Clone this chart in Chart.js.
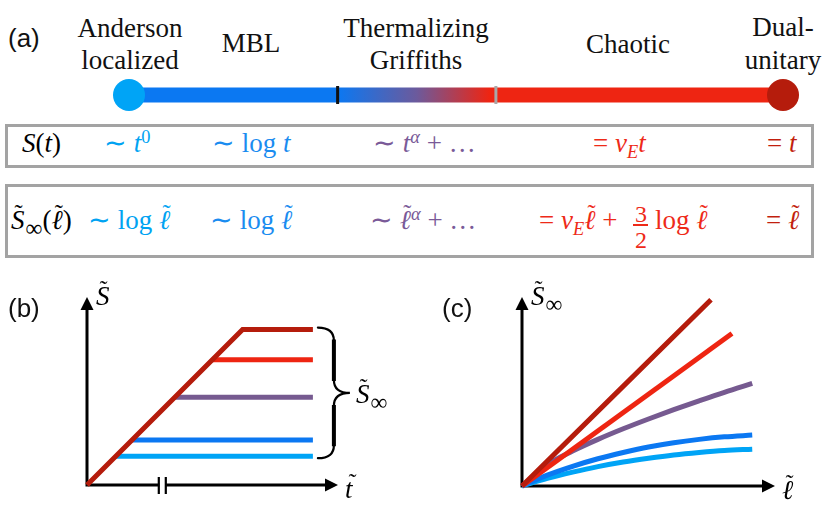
<!DOCTYPE html>
<html>
<head>
<meta charset="utf-8">
<script src="https://cdn.jsdelivr.net/npm/chart.js@4.4.1/dist/chart.umd.min.js"></script>
<style>
  body { margin: 0; background: #fff; }
  #page { position: relative; width: 830px; height: 508px; overflow: hidden; background: #fff; font-family: 'Liberation Serif', 'Times New Roman', serif; }
  canvas { position: absolute; }
  #page .t { position: absolute; white-space: nowrap; line-height: 1; font-family: 'Liberation Serif', 'Times New Roman', serif; }
  #page .lab { font-size: 27px; width: 200px; text-align: center; color: #111; }
  #page .m { font-size: 27px; }
  #page .sans { font-family: 'Liberation Sans', Arial, sans-serif; font-size: 26px; color: #111; }
  .box { position: absolute; border: 3px solid #a3a3a3; box-sizing: border-box; }
  sup { font-size: 0.68em; vertical-align: 0.5em; line-height: 0; }
  sub { font-size: 0.68em; vertical-align: -0.3em; line-height: 0; }
  sub.inf { font-size: 0.88em; vertical-align: -0.28em; margin-left: 1px; }
  .acc { position: relative; display: inline-block; font-style: italic; }
  .acc .tl { position: absolute; left: 0.14em; top: -0.2em; font-style: normal; font-size: 0.9em; }
  .c0 { color: #00a3f2; }
  .c1 { color: #1a8cf0; }
  .c2 { color: #7a5a98; }
  .c3 { color: #ee2a18; }
  .c4 { color: #c21f0e; }
  .bar { position: absolute; height: 1.5px; background: #ee2a18; }
</style>
</head>
<body>
<div id="page">
  <!-- (a) phase labels -->
  <div class="t sans" style="left:8px;top:25px">(a)</div>
  <div class="t lab" style="left:30px;top:15px">Anderson</div>
  <div class="t lab" style="left:30px;top:47px">localized</div>
  <div class="t lab" style="left:151px;top:30px">MBL</div>
  <div class="t lab" style="left:316px;top:15px">Thermalizing</div>
  <div class="t lab" style="left:316px;top:47px">Griffiths</div>
  <div class="t lab" style="left:528px;top:31px">Chaotic</div>
  <div class="t lab" style="left:683px;top:14px">Dual-</div>
  <div class="t lab" style="left:683px;top:47px">unitary</div>

  <canvas id="phase" width="830" height="50" style="left:0;top:70px;width:830px;height:50px"></canvas>

  <!-- entanglement growth row -->
  <div class="box" style="left:5px;top:124px;width:809px;height:44px"></div>
  <div class="t m" style="left:22px;top:130px"><i>S</i>(<i>t</i>)</div>
  <div class="t m c0" style="left:104px;top:130px">∼ <i>t</i><sup>0</sup></div>
  <div class="t m c1" style="left:212px;top:130px">∼ log <i>t</i></div>
  <div class="t m c2" style="left:373px;top:130px">∼ <i>t</i><sup><i>α</i></sup> + …</div>
  <div class="t m c3" style="left:593px;top:130px">= <i>v</i><sub><i>E</i></sub><i>t</i></div>
  <div class="t m c4" style="left:767px;top:130px">= <i>t</i></div>

  <!-- saturation row -->
  <div class="box" style="left:5px;top:184px;width:809px;height:74px"></div>
  <div class="t m" style="left:11px;top:207px"><span class="acc">S<span class="tl">˜</span></span><sub class="inf">∞</sub>(<span class="acc">ℓ<span class="tl">˜</span></span>)</div>
  <div class="t m c0" style="left:88px;top:207px">∼ log <span class="acc">ℓ<span class="tl">˜</span></span></div>
  <div class="t m c1" style="left:210px;top:207px">∼ log <span class="acc">ℓ<span class="tl">˜</span></span></div>
  <div class="t m c2" style="left:370px;top:207px">∼ <span class="acc">ℓ<span class="tl">˜</span></span><sup><i>α</i></sup> + …</div>
  <div class="t m c3" style="left:539px;top:207px">= <i>v</i><sub><i>E</i></sub><span class="acc">ℓ<span class="tl">˜</span></span> +</div>
  <div class="t c3" style="left:635px;top:202px;font-size:24px">3</div>
  <div class="bar" style="left:633px;top:224px;width:15px"></div>
  <div class="t c3" style="left:635px;top:228px;font-size:24px">2</div>
  <div class="t m c3" style="left:655px;top:207px">log <span class="acc">ℓ<span class="tl">˜</span></span></div>
  <div class="t m c4" style="left:766px;top:207px">= <span class="acc">ℓ<span class="tl">˜</span></span></div>

  <!-- (b) and (c) -->
  <canvas id="growth" width="415" height="238" style="left:0;top:270px;width:415px;height:238px"></canvas>
  <canvas id="sat" width="415" height="238" style="left:415px;top:270px;width:415px;height:238px"></canvas>

  <div class="t sans" style="left:8px;top:295px">(b)</div>
  <div class="t m" style="left:96px;top:283px"><span class="acc">S<span class="tl">˜</span></span></div>
  <div class="t m" style="left:345px;top:476px"><span class="acc">t<span class="tl">˜</span></span></div>
  <div class="t m" style="left:356px;top:381px"><span class="acc">S<span class="tl">˜</span></span><sub class="inf">∞</sub></div>

  <div class="t sans" style="left:442px;top:295px">(c)</div>
  <div class="t m" style="left:531px;top:283px"><span class="acc">S<span class="tl">˜</span></span><sub class="inf">∞</sub></div>
  <div class="t m" style="left:782px;top:477px"><span class="acc">ℓ<span class="tl">˜</span></span></div>
</div>

<script>
// phases, from Anderson localized to dual-unitary
const phaseNames = ['Anderson localized', 'MBL', 'Thermalizing Griffiths', 'Chaotic', 'Dual-unitary'];
const phaseColors = ['#00a4f6', '#0b78f2', '#765a90', '#ee2512', '#b51c0c'];

// phase line: positions of the two transitions along the bar (0 = Anderson, 1 = dual-unitary)
const transitions = [0.319, 0.561];

// (b) entanglement growth: plateau heights S~_inf (reached along S~ = t~)
const plateau = [1.15, 1.8, 3.5, 5.0, 6.2];
const tEnd = 9.0;
const tBreak = 3.0;

// (c) saturation value vs subsystem size
const ellGrid = [0, 1, 2, 3, 4, 5, 6, 7, 8, 9.1];
const satAnderson = [0, 0.30, 0.55, 0.77, 0.95, 1.10, 1.23, 1.33, 1.41, 1.46];
const satMBL = [0, 0.43, 0.78, 1.08, 1.33, 1.55, 1.72, 1.85, 1.95, 2.02];
const satGriffiths = [0, 0.85, 1.39, 1.85, 2.27, 2.66, 3.03, 3.38, 3.72, 4.07];
const ellChaotic = [0, 8.3];
const satChaotic = [0, 6.05];
const ellDual = [0, 7.47];
const satDual = [0, 7.39];

const baseOptions = (padding) => ({
  responsive: false,
  animation: false,
  devicePixelRatio: 1,
  layout: { padding: padding },
  plugins: { legend: { display: false }, tooltip: { enabled: false } },
  elements: { point: { radius: 0 } },
  scales: {
    x: { type: 'linear', display: false, min: 0, max: 10 },
    y: { type: 'linear', display: false, min: 0, max: 7.5 }
  }
});

function arrow(ctx, x, y, dx, dy) {
  const len = 13, half = 6.5;
  const px = -dy, py = dx;
  ctx.beginPath();
  ctx.moveTo(x, y);
  ctx.lineTo(x - dx * len + px * half, y - dy * len + py * half);
  ctx.lineTo(x - dx * len - px * half, y - dy * len - py * half);
  ctx.closePath();
  ctx.fill();
}

// arrowed axes through the origin
const axesPlugin = {
  id: 'axes',
  beforeDatasetsDraw(chart, args, opts) {
    const { ctx } = chart;
    const { left, right, top, bottom } = chart.chartArea;
    ctx.save();
    ctx.strokeStyle = '#000';
    ctx.fillStyle = '#000';
    ctx.lineWidth = 3;
    ctx.beginPath();
    ctx.moveTo(left, bottom + 1.5);
    ctx.lineTo(left, top + 10);
    ctx.moveTo(left - 1.5, bottom);
    ctx.lineTo(right - 10, bottom);
    ctx.stroke();
    arrow(ctx, left, top, 0, -1);
    arrow(ctx, right, bottom, 1, 0);
    if (opts.breakAt != null) {
      const xb = chart.scales.x.getPixelForValue(opts.breakAt);
      ctx.fillStyle = '#fff';
      ctx.fillRect(xb - 3, bottom - 3, 6, 6);
      ctx.lineWidth = 2.2;
      ctx.beginPath();
      ctx.moveTo(xb - 3.5, bottom - 8); ctx.lineTo(xb - 3.5, bottom + 9);
      ctx.moveTo(xb + 3.5, bottom - 8); ctx.lineTo(xb + 3.5, bottom + 9);
      ctx.stroke();
    }
    ctx.restore();
  }
};

// curly brace spanning the plateaus in (b), thicker stems like a typeset brace
const bracePlugin = {
  id: 'brace',
  afterDatasetsDraw(chart, args, opts) {
    if (!opts.show) return;
    const { ctx } = chart;
    const ys = chart.scales.y;
    const y1 = ys.getPixelForValue(Math.max(...plateau)) - 2;
    const y2 = ys.getPixelForValue(Math.min(...plateau)) + 2;
    const ym = (y1 + y2) / 2;
    const x0 = chart.scales.x.getPixelForValue(tEnd) + 5;
    const w = 32, xm = x0 + w / 2, r = 13;
    ctx.save();
    ctx.strokeStyle = '#000';
    ctx.lineCap = 'round';
    ctx.lineWidth = 2.2;
    ctx.beginPath();
    ctx.moveTo(x0, y1);
    ctx.quadraticCurveTo(xm, y1, xm, y1 + r);
    ctx.moveTo(xm, ym - r);
    ctx.quadraticCurveTo(xm, ym, x0 + w, ym);
    ctx.quadraticCurveTo(xm, ym, xm, ym + r);
    ctx.moveTo(xm, y2 - r);
    ctx.quadraticCurveTo(xm, y2, x0, y2);
    ctx.stroke();
    ctx.lineWidth = 4;
    ctx.lineCap = 'butt';
    ctx.beginPath();
    ctx.moveTo(xm, y1 + r - 1);
    ctx.lineTo(xm, ym - r + 1);
    ctx.moveTo(xm, ym + r - 1);
    ctx.lineTo(xm, y2 - r + 1);
    ctx.stroke();
    ctx.restore();
  }
};

// ---- (a) phase line ----
const phaseCtx = document.getElementById('phase').getContext('2d');
new Chart(phaseCtx, {
  type: 'scatter',
  data: {
    datasets: [
      {
        data: [{ x: 0, y: 0 }, { x: 1, y: 0 }],
        pointRadius: 16,
        pointBorderWidth: 0,
        pointBackgroundColor: [phaseColors[0], phaseColors[4]],
        showLine: false,
        clip: false
      },
      {
        data: [{ x: transitions[0], y: -1 }, { x: transitions[0], y: 1 }],
        showLine: true, borderColor: '#111', borderWidth: 3, pointRadius: 0, clip: false
      },
      {
        data: [{ x: transitions[1], y: -1 }, { x: transitions[1], y: 1 }],
        showLine: true, borderColor: '#a8a8a8', borderWidth: 3, pointRadius: 0, clip: false
      },
      {
        data: [{ x: 0, y: 0 }, { x: 1, y: 0 }],
        showLine: true,
        borderWidth: 15,
        pointRadius: 0,
        clip: false,
        borderColor: (c) => {
          const chart = c.chart;
          if (!chart.chartArea) return phaseColors[1];
          const xs = chart.scales.x;
          const g = chart.ctx.createLinearGradient(xs.getPixelForValue(0), 0, xs.getPixelForValue(1), 0);
          g.addColorStop(0, phaseColors[1]);
          g.addColorStop(transitions[0], phaseColors[1]);
          g.addColorStop((transitions[0] + transitions[1]) / 2, '#6c5a9c');
          g.addColorStop(transitions[1] - 0.01, phaseColors[3]);
          g.addColorStop(1, phaseColors[3]);
          return g;
        }
      }
    ]
  },
  options: {
    responsive: false,
    animation: false,
    devicePixelRatio: 1,
    layout: { padding: { left: 129, right: 47, top: 12, bottom: 8 } },
    plugins: { legend: { display: false }, tooltip: { enabled: false } },
    scales: {
      x: { type: 'linear', display: false, min: 0, max: 1 },
      y: { type: 'linear', display: false, min: -1, max: 1 }
    }
  }
});

// ---- (b) S~(t~) ----
const growthSets = [];
for (let i = plateau.length - 1; i >= 0; i--) {
  const s = plateau[i];
  const pts = i === plateau.length - 1
    ? [{ x: 0, y: 0 }, { x: s, y: s }, { x: tEnd, y: s }]
    : [{ x: s, y: s }, { x: tEnd, y: s }];
  growthSets.push({
    data: pts,
    showLine: true,
    borderColor: phaseColors[i],
    borderWidth: 5,
    borderCapStyle: 'butt',
    borderJoinStyle: 'miter',
    tension: 0,
    clip: false
  });
}
const growthOpts = baseOptions({ left: 87, right: 77, top: 27, bottom: 23 });
growthOpts.plugins.axes = { breakAt: tBreak };
growthOpts.plugins.brace = { show: true };
new Chart(document.getElementById('growth').getContext('2d'), {
  type: 'scatter',
  data: { datasets: growthSets },
  options: growthOpts,
  plugins: [axesPlugin, bracePlugin]
});

// ---- (c) S~_inf(l~) ----
const toPts = (xs, ys) => xs.map((x, k) => ({ x: x, y: ys[k] }));
const satSeries = [
  toPts(ellDual, satDual),
  toPts(ellChaotic, satChaotic),
  toPts(ellGrid, satGriffiths),
  toPts(ellGrid, satMBL),
  toPts(ellGrid, satAnderson)
];
const satSets = satSeries.map((pts, k) => ({
  data: pts,
  showLine: true,
  borderColor: phaseColors[4 - k],
  borderWidth: 5,
  borderCapStyle: 'butt',
  cubicInterpolationMode: 'monotone',
  clip: false
}));
const satOpts = baseOptions({ left: 107, right: 55, top: 27, bottom: 22 });
satOpts.plugins.axes = { breakAt: null };
satOpts.plugins.brace = { show: false };
new Chart(document.getElementById('sat').getContext('2d'), {
  type: 'scatter',
  data: { datasets: satSets },
  options: satOpts,
  plugins: [axesPlugin, bracePlugin]
});
</script>
</body>
</html>
